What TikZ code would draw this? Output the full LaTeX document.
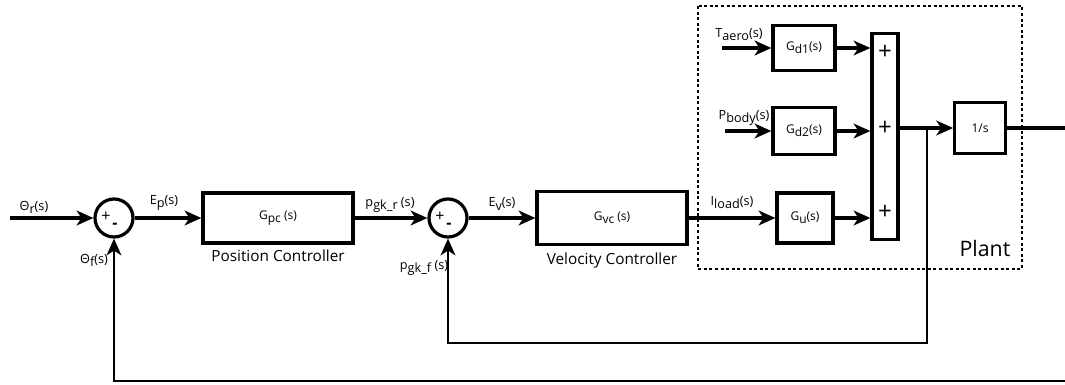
\documentclass[tikz,border=0pt]{standalone}
\usepackage{fontspec}
\setmainfont{Open Sans}
\usetikzlibrary{arrows.meta,positioning,calc}
\newcommand{\lowsub}[1]{\raisebox{-0.45ex}{#1}}

\begin{document}
\begin{tikzpicture}[x=0.75pt,y=-0.75pt,
  blk/.style={draw,line width=2.4pt,inner sep=0pt,font=\fontsize{9}{10}\selectfont},
  sumc/.style={draw,circle,line width=2.4pt,minimum size=28.5pt,inner sep=0pt},
  sig/.style={line width=2.6pt,-{Stealth[length=12.5pt,width=11pt,inset=3.5pt]}},
  wire/.style={line width=2.6pt},
  fb/.style={line width=2pt},
  lbl/.style={font=\fontsize{9.5}{11}\selectfont,inner sep=0pt},
  sgn/.style={font=\fontsize{12}{12}\selectfont,inner sep=0pt},
  barsgn/.style={font=\fontsize{18}{18}\selectfont,inner sep=0pt},
  ctrllbl/.style={font=\fontsize{11.5}{13}\selectfont,inner sep=0pt}]

  \useasboundingbox (0,0) rectangle (1065,385);

  % forward path
  \coordinate (rin) at (10,218);
  \node[sumc] (sum1) at (114,218) {};
  \node[blk,minimum width=112.5pt,minimum height=37.5pt] (gpc) at (278,218) {G\lowsub{pc} (s)};
  \node[sumc] (sum2) at (448,218) {};
  \node[blk,minimum width=112.5pt,minimum height=40pt] (gvc) at (612,218) {G\lowsub{vc} (s)};
  \node[ctrllbl,below=4pt of gpc] (poslbl) {Position Controller};
  \node[ctrllbl,below=5pt of gvc] (vellbl) {Velocity Controller};

  % signs on the summers
  \node[sgn] (s1p) at (106,217) {+};
  \node[sgn] (s1m) at (115,226) {\textbf{-}};
  \node[sgn] (s2p) at (440,217) {+};
  \node[sgn] (s2m) at (449,226) {\textbf{-}};

  % plant
  \draw[dotted,line width=2.2pt] (698,6) rectangle (1022,269);
  \node[font=\fontsize{16}{17}\selectfont,inner sep=0pt] (plantlbl) at (985,248) {Plant};
  \coordinate (tin) at (722,48);
  \coordinate (pin) at (725,131);
  \node[blk,minimum width=46.5pt,minimum height=34pt] (gd1) at (804,48) {G\lowsub{d1}(s)};
  \node[blk,minimum width=46.5pt,minimum height=35pt] (gd2) at (804,131) {G\lowsub{d2}(s)};
  \node[blk,minimum width=42pt,minimum height=37.5pt] (gu) at (805,218) {G\lowsub{u}(s)};
  \node[draw,line width=2.4pt,minimum width=19.5pt,minimum height=155pt,inner sep=0pt] (bar) at (885,136.5) {};
  \node[barsgn] (bp1) at (885,52) {+};
  \node[barsgn] (bp2) at (885,128) {+};
  \node[barsgn] (bp3) at (885,212) {+};
  \node[blk,minimum width=38pt,minimum height=38pt] (integ) at (980,128) {1/s};
  \coordinate (brk) at (927,128);
  \coordinate (yout) at (1065,128);

  % signals
  \draw[sig] (rin) -- (sum1.west);
  \draw[sig] (sum1.east) -- (gpc.west);
  \draw[sig] (gpc.east) -- (sum2.west);
  \draw[sig] (sum2.east) -- (gvc.west);
  \draw[sig] (gvc.east) -- (gu.west);
  \draw[sig] (tin) -- (gd1.west);
  \draw[sig] (pin) -- (gd2.west);
  \draw[sig] (gd1.east) -- (gd1.east -| bar.west);
  \draw[sig] (gd2.east) -- (gd2.east -| bar.west);
  \draw[sig] (gu.east) -- (gu.east -| bar.west);
  \draw[sig] (bar.east |- integ.west) -- (integ.west);
  \draw[wire] (integ.east) -- (yout);

  % feedback
  \coordinate (fbin) at (927,343);
  \coordinate (fbout) at (1065,381);
  \draw[fb,-{Stealth[length=12.5pt,width=11pt,inset=3.5pt]}] (brk) -- (fbin) -| (sum2.south);
  \draw[fb,-{Stealth[length=12.5pt,width=11pt,inset=3.5pt]}] (fbout) -| (sum1.south);

  % signal names
  \node[lbl] (thr) at (34,207) {Θ\lowsub{r}(s)};
  \node[lbl] (ep) at (164,203) {E\lowsub{p}(s)};
  \node[lbl] (pgkr) at (390,205) {p\lowsub{gk\_r} (s)};
  \node[lbl] (ev) at (502,204) {E\lowsub{v}(s)};
  \node[lbl] (ild) at (732,203) {I\lowsub{load}(s)};
  \node[lbl] (taero) at (739,35) {T\lowsub{aero}(s)};
  \node[lbl] (pbody) at (744,118) {P\lowsub{body}(s)};
  \node[lbl] (thf) at (94,260) {Θ\lowsub{f}(s)};
  \node[lbl] (pgkf) at (424,268) {p\lowsub{gk\_f} (s)};
\end{tikzpicture}
\end{document}
